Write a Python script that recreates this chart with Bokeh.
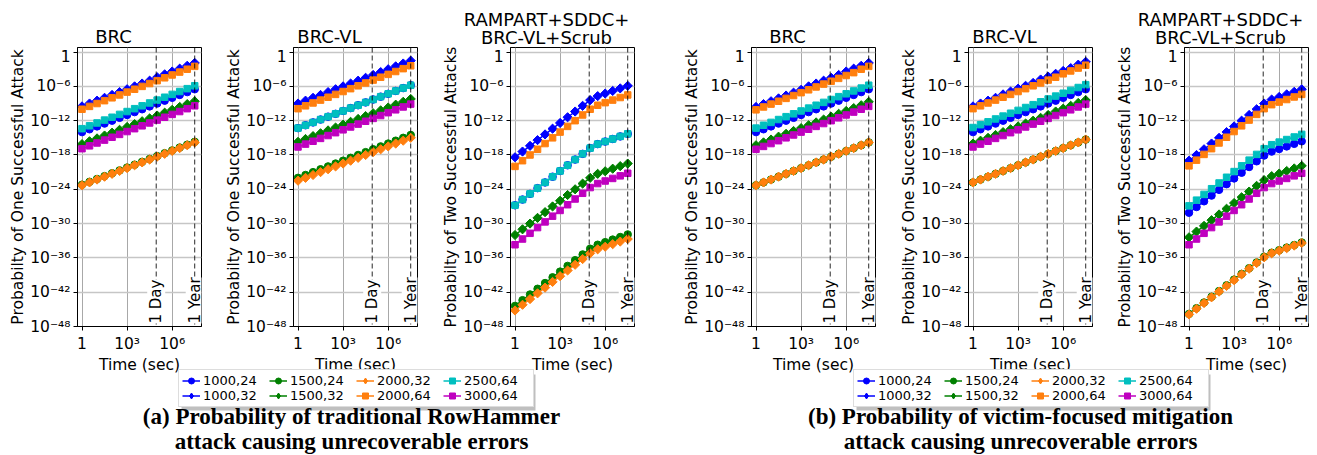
import math
from bokeh.plotting import figure
from bokeh.layouts import row, column
from bokeh.models import (Range1d, FixedTicker, CustomJSTickFormatter, Span, Label,
                          Legend, LegendItem, BoxAnnotation)
from bokeh.embed import file_html
from bokeh.resources import INLINE

# ---------------- data ----------------
time_sec = [1, 3.16, 10, 31.6, 100, 316, 1000, 3160, 1e4, 3.16e4, 1e5, 3.16e5,
            1e6, 3.16e6, 1e7, 3.15e7]
series_labels = ["1000,24", "1000,32", "1500,24", "1500,32",
                 "2000,32", "2000,64", "2500,64", "3000,64"]
x_ticks = [1, 1e3, 1e6]
y_ticks = [1e-48, 1e-42, 1e-36, 1e-30, 1e-24, 1e-18, 1e-12, 1e-6, 1]
day_sec = 86400
year_sec = 31536000

# log10 of probability, one list per configuration
a_brc = {
    "1000,24": [-14.0, -13.5, -13.0, -12.5, -12.0, -11.5, -11.0, -10.5, -10.0, -9.5, -9.0, -8.5, -8.0, -7.5, -7.0, -6.5],
    "1000,32": [-9.5, -9.0, -8.5, -8.0, -7.5, -7.0, -6.5, -6.0, -5.5, -5.0, -4.4, -3.9, -3.4, -2.9, -2.4, -1.9],
    "1500,24": [-23.2, -22.7, -22.2, -21.7, -21.2, -20.7, -20.2, -19.7, -19.2, -18.7, -18.2, -17.7, -17.2, -16.7, -16.2, -15.7],
    "1500,32": [-16.1, -15.6, -15.1, -14.6, -14.1, -13.6, -13.1, -12.6, -12.1, -11.6, -11.1, -10.6, -10.1, -9.6, -9.1, -8.6],
    "2000,32": [-23.3, -22.8, -22.3, -21.8, -21.3, -20.8, -20.3, -19.8, -19.3, -18.8, -18.3, -17.8, -17.3, -16.8, -16.3, -15.8],
    "2000,64": [-10.0, -9.5, -9.0, -8.5, -8.0, -7.5, -7.0, -6.5, -6.0, -5.5, -5.0, -4.5, -4.0, -3.5, -3.0, -2.5],
    "2500,64": [-13.4, -12.9, -12.4, -11.9, -11.4, -10.9, -10.4, -9.9, -9.4, -8.9, -8.4, -7.9, -7.4, -6.9, -6.4, -5.9],
    "3000,64": [-16.9, -16.4, -15.9, -15.4, -14.9, -14.4, -13.9, -13.4, -12.9, -12.4, -11.9, -11.4, -10.9, -10.4, -9.9, -9.4],
}
a_brcvl = {
    "1000,24": [-13.3, -12.8, -12.3, -11.8, -11.3, -10.8, -10.3, -9.8, -9.3, -8.8, -8.3, -7.8, -7.3, -6.8, -6.3, -5.8],
    "1000,32": [-9.0, -8.5, -8.0, -7.5, -7.0, -6.5, -6.0, -5.5, -5.0, -4.5, -4.0, -3.5, -3.0, -2.5, -2.0, -1.5],
    "1500,24": [-22.0, -21.5, -21.0, -20.5, -20.0, -19.5, -19.0, -18.5, -18.0, -17.5, -17.0, -16.5, -16.0, -15.5, -15.0, -14.5],
    "1500,32": [-15.7, -15.2, -14.7, -14.2, -13.7, -13.2, -12.7, -12.2, -11.7, -11.2, -10.7, -10.2, -9.7, -9.2, -8.7, -8.2],
    "2000,32": [-22.5, -22.0, -21.5, -21.0, -20.5, -20.0, -19.5, -19.0, -18.5, -18.0, -17.5, -17.0, -16.5, -16.0, -15.5, -15.0],
    "2000,64": [-9.9, -9.4, -8.9, -8.4, -7.9, -7.4, -6.9, -6.4, -5.9, -5.4, -4.9, -4.4, -3.9, -3.4, -2.9, -2.4],
    "2500,64": [-13.3, -12.8, -12.3, -11.8, -11.3, -10.8, -10.3, -9.8, -9.3, -8.8, -8.3, -7.8, -7.3, -6.8, -6.3, -5.8],
    "3000,64": [-16.6, -16.1, -15.6, -15.1, -14.6, -14.1, -13.6, -13.1, -12.6, -12.1, -11.6, -11.1, -10.6, -10.1, -9.6, -9.1],
}
a_rampart = {
    "1000,24": [-26.8, -25.8, -24.8, -23.8, -22.8, -21.8, -20.8, -19.8, -18.8, -17.8, -16.8, -16.1, -15.65, -15.2, -14.75, -14.3],
    "1000,32": [-18.4, -17.4, -16.4, -15.4, -14.4, -13.4, -12.4, -11.4, -10.4, -9.4, -8.4, -7.7, -7.25, -6.8, -6.35, -5.9],
    "1500,24": [-44.4, -43.4, -42.4, -41.4, -40.4, -39.4, -38.4, -37.4, -36.4, -35.4, -34.4, -33.7, -33.25, -32.8, -32.35, -31.9],
    "1500,32": [-32.0, -31.0, -30.0, -29.0, -28.0, -27.0, -26.0, -25.0, -24.0, -23.0, -22.0, -21.3, -20.85, -20.4, -19.95, -19.5],
    "2000,32": [-45.2, -44.2, -43.2, -42.2, -41.2, -40.2, -39.2, -38.2, -37.2, -36.2, -35.2, -34.5, -34.05, -33.6, -33.15, -32.7],
    "2000,64": [-20.0, -19.0, -18.0, -17.0, -16.0, -15.0, -14.0, -13.0, -12.0, -11.0, -10.0, -9.3, -8.85, -8.4, -7.95, -7.5],
    "2500,64": [-26.8, -25.8, -24.8, -23.8, -22.8, -21.8, -20.8, -19.8, -18.8, -17.8, -16.8, -16.1, -15.65, -15.2, -14.75, -14.3],
    "3000,64": [-33.7, -32.7, -31.7, -30.7, -29.7, -28.7, -27.7, -26.7, -25.7, -24.7, -23.7, -23.0, -22.55, -22.1, -21.65, -21.2],
}
b_brc = {
    "1000,24": [-14.0, -13.5, -13.0, -12.5, -12.0, -11.5, -11.0, -10.5, -10.0, -9.5, -9.0, -8.5, -8.0, -7.5, -7.0, -6.5],
    "1000,32": [-9.6, -9.1, -8.6, -8.1, -7.6, -7.1, -6.6, -6.0, -5.5, -5.0, -4.5, -4.0, -3.4, -2.9, -2.4, -1.9],
    "1500,24": [-23.3, -22.8, -22.3, -21.8, -21.3, -20.8, -20.3, -19.8, -19.3, -18.8, -18.3, -17.8, -17.3, -16.8, -16.3, -15.8],
    "1500,32": [-16.3, -15.8, -15.3, -14.8, -14.3, -13.8, -13.3, -12.8, -12.3, -11.8, -11.3, -10.8, -10.3, -9.8, -9.3, -8.7],
    "2000,32": [-23.3, -22.8, -22.3, -21.8, -21.3, -20.8, -20.3, -19.8, -19.3, -18.8, -18.3, -17.8, -17.3, -16.8, -16.3, -15.8],
    "2000,64": [-10.1, -9.6, -9.1, -8.6, -8.1, -7.6, -7.1, -6.6, -6.1, -5.6, -5.1, -4.6, -4.1, -3.6, -3.0, -2.5],
    "2500,64": [-13.3, -12.8, -12.3, -11.8, -11.3, -10.8, -10.3, -9.8, -9.3, -8.8, -8.3, -7.8, -7.3, -6.8, -6.3, -5.8],
    "3000,64": [-17.0, -16.5, -16.0, -15.5, -15.0, -14.5, -14.0, -13.5, -13.0, -12.5, -12.0, -11.5, -11.0, -10.5, -10.0, -9.5],
}
b_brcvl = {
    "1000,24": [-14.0, -13.5, -13.0, -12.5, -12.0, -11.5, -11.0, -10.5, -10.0, -9.5, -9.0, -8.5, -8.0, -7.5, -7.0, -6.5],
    "1000,32": [-9.5, -9.0, -8.5, -8.0, -7.4, -6.9, -6.4, -5.9, -5.4, -4.8, -4.3, -3.8, -3.3, -2.8, -2.2, -1.7],
    "1500,24": [-22.8, -22.3, -21.8, -21.3, -20.8, -20.3, -19.8, -19.3, -18.8, -18.3, -17.8, -17.3, -16.8, -16.3, -15.8, -15.3],
    "1500,32": [-16.0, -15.5, -15.0, -14.5, -14.0, -13.5, -13.0, -12.5, -12.0, -11.5, -11.0, -10.4, -9.9, -9.4, -8.9, -8.4],
    "2000,32": [-22.8, -22.3, -21.8, -21.3, -20.8, -20.3, -19.8, -19.3, -18.8, -18.3, -17.8, -17.3, -16.8, -16.3, -15.8, -15.3],
    "2000,64": [-9.9, -9.4, -8.9, -8.4, -7.9, -7.4, -6.9, -6.4, -5.9, -5.4, -4.9, -4.4, -3.8, -3.3, -2.8, -2.3],
    "2500,64": [-13.2, -12.7, -12.2, -11.7, -11.2, -10.7, -10.2, -9.7, -9.2, -8.7, -8.2, -7.7, -7.2, -6.7, -6.2, -5.7],
    "3000,64": [-16.6, -16.1, -15.6, -15.1, -14.6, -14.1, -13.6, -13.1, -12.6, -12.1, -11.6, -11.1, -10.6, -10.1, -9.6, -9.1],
}
b_rampart = {
    "1000,24": [-28.1, -27.1, -26.1, -25.1, -24.1, -23.1, -22.1, -21.1, -20.1, -19.1, -18.1, -17.4, -16.95, -16.5, -16.05, -15.6],
    "1000,32": [-19.0, -18.0, -17.0, -16.0, -15.0, -14.0, -13.0, -12.0, -11.0, -10.0, -9.0, -8.3, -7.85, -7.4, -6.95, -6.5],
    "1500,24": [-45.8, -44.8, -43.8, -42.8, -41.8, -40.8, -39.8, -38.8, -37.8, -36.8, -35.8, -35.1, -34.65, -34.2, -33.75, -33.3],
    "1500,32": [-32.4, -31.4, -30.4, -29.4, -28.4, -27.4, -26.4, -25.4, -24.4, -23.4, -22.4, -21.7, -21.25, -20.8, -20.35, -19.9],
    "2000,32": [-45.9, -44.9, -43.9, -42.9, -41.9, -40.9, -39.9, -38.9, -37.9, -36.9, -35.9, -35.2, -34.75, -34.3, -33.85, -33.4],
    "2000,64": [-19.9, -18.9, -17.9, -16.9, -15.9, -14.9, -13.9, -12.9, -11.9, -10.9, -9.9, -9.2, -8.75, -8.3, -7.85, -7.4],
    "2500,64": [-26.9, -25.9, -24.9, -23.9, -22.9, -21.9, -20.9, -19.9, -18.9, -17.9, -16.9, -16.2, -15.75, -15.3, -14.85, -14.4],
    "3000,64": [-33.7, -32.7, -31.7, -30.7, -29.7, -28.7, -27.7, -26.7, -25.7, -24.7, -23.7, -23.0, -22.55, -22.1, -21.65, -21.2],
}
panel_titles = [["BRC"], ["BRC-VL"], ["RAMPART+SDDC+", "BRC-VL+Scrub"],
                ["BRC"], ["BRC-VL"], ["RAMPART+SDDC+", "BRC-VL+Scrub"]]
y_label_one = "Probabilty of One Successful Attack"
y_label_two = "Probabilty of Two Successful Attacks"
x_label = "Time (sec)"
caption_a = ["(a) Probability of traditional RowHammer", "attack causing unrecoverable errors"]
caption_b = ["(b) Probability of victim-focused mitigation", "attack causing unrecoverable errors"]

# ---------------- styles / layout ----------------
series_colors = ["#0000ff", "#0000ff", "#008000", "#008000",
                 "#ff7f0e", "#ff7f0e", "#00bfbf", "#bf00bf"]
series_markers = ["circle", "diamond", "circle", "diamond",
                  "diamond", "square", "square", "square"]
FONT = "DejaVu Sans"
FRAME_W, FRAME_H = 124, 279
TITLE_H = 47
PANEL_TOP, PANEL_BOTTOM = 0, 27
TOTAL_H = 454
BOTTOM_H = TOTAL_H - TITLE_H - (PANEL_TOP + FRAME_H + PANEL_BOTTOM)
panel_left_borders = [77, 88, 89, 113, 89, 88]
panel_right_borders = [4, 4, 4, 4, 4, 5]
TOTAL_W = sum(panel_left_borders) + sum(panel_right_borders) + 6 * FRAME_W

tick_code = """
const e = Math.round(Math.log10(tick));
if (e === 0) { return "1"; }
const sup = {"-": "\\u207b", "0": "\\u2070", "1": "\\u00b9", "2": "\\u00b2", "3": "\\u00b3",
             "4": "\\u2074", "5": "\\u2075", "6": "\\u2076", "7": "\\u2077", "8": "\\u2078", "9": "\\u2079"};
let s = "";
for (const c of String(e)) { s += sup[c]; }
return "10" + s;
"""


def add_series(p, xs, ys, color, marker, legend_shape=False):
    r1 = p.line(xs, ys, line_color=color, line_width=1.5)
    if marker == "diamond":
        if legend_shape:
            r2 = p.scatter(xs, ys, marker="diamond", size=9, fill_color=color, line_color=color)
        else:
            r2 = p.scatter(xs, ys, marker="square", angle=math.pi / 4, size=6.5,
                           fill_color=color, line_color=color)
    elif marker == "circle":
        r2 = p.scatter(xs, ys, marker="circle", size=7.5, fill_color=color, line_color=color)
    else:
        r2 = p.scatter(xs, ys, marker="square", size=6.5, fill_color=color, line_color=color)
    return r1, r2


def make_panel(data, ylabel, bl, br):
    p = figure(frame_width=FRAME_W, frame_height=FRAME_H,
               x_axis_type="log", y_axis_type="log",
               x_range=Range1d(10 ** -0.3, 10 ** 7.95),
               y_range=Range1d(1e-48, 10 ** 0.8),
               min_border_left=bl, min_border_right=br,
               min_border_top=PANEL_TOP, min_border_bottom=PANEL_BOTTOM,
               toolbar_location=None, tools="", output_backend="svg", title=None)
    p.background_fill_color = "white"
    p.border_fill_color = "white"
    p.outline_line_color = "black"
    p.outline_line_width = 1

    p.xaxis.ticker = FixedTicker(ticks=x_ticks)
    p.yaxis.ticker = FixedTicker(ticks=y_ticks)
    fmt = CustomJSTickFormatter(code=tick_code)
    p.xaxis.formatter = fmt
    p.yaxis.formatter = fmt
    for ax in (p.xaxis, p.yaxis):
        ax.major_tick_out = 4
        ax.major_tick_in = 0
        ax.minor_tick_line_color = None
        ax.axis_line_color = "black"
        ax.major_tick_line_color = "black"
        ax.major_label_text_font = FONT
        ax.major_label_text_font_size = "15.5px"
        ax.major_label_text_color = "black"
        ax.major_label_standoff = 3
        ax.axis_label_text_font = FONT
        ax.axis_label_text_font_size = "15.5px"
        ax.axis_label_text_font_style = "normal"
        ax.axis_label_text_color = "black"
        ax.axis_label_standoff = 0
    p.xaxis.major_label_standoff = 4
    p.yaxis.axis_label = ylabel

    p.xgrid.grid_line_color = "#a8a8a8"
    p.xgrid.grid_line_width = 1
    p.ygrid.grid_line_color = "#c6c6c6"
    p.ygrid.grid_line_width = 1.5

    for label, color, marker in zip(series_labels, series_colors, series_markers):
        ys = [10 ** v for v in data[label]]
        add_series(p, time_sec, ys, color, marker)

    for loc in (day_sec, year_sec):
        p.add_layout(Span(location=loc, dimension="height", line_color="black",
                          line_width=1, line_dash="5 3", line_alpha=0.85))
    for loc, txt in ((day_sec, "1 Day"), (year_sec, "1 Year")):
        p.add_layout(Label(x=loc, y=3, y_units="screen", text=txt, angle=math.pi / 2,
                           text_align="left", text_baseline="middle",
                           text_font=FONT, text_font_size="15px", text_color="black",
                           background_fill_color="white"))
    return p


panels_data = [a_brc, a_brcvl, a_rampart, b_brc, b_brcvl, b_rampart]
panels_ylabel = [y_label_one, y_label_one, y_label_two, y_label_one, y_label_one, y_label_two]
panels = [make_panel(d, yl, bl, br) for d, yl, bl, br in
          zip(panels_data, panels_ylabel, panel_left_borders, panel_right_borders)]

# frame centres (page x; the layout starts at the page's left edge)
frame_centres = []
acc = 0
for bl, br in zip(panel_left_borders, panel_right_borders):
    frame_centres.append(acc + bl + FRAME_W / 2)
    acc += bl + FRAME_W + br


def strip(height):
    s = figure(width=TOTAL_W, height=height, x_range=Range1d(0, TOTAL_W), y_range=Range1d(0, height),
               min_border_left=0, min_border_right=0, min_border_top=0, min_border_bottom=0,
               x_axis_location=None, y_axis_location=None,
               toolbar_location=None, tools="", output_backend="svg", title=None)
    s.xgrid.visible = False
    s.ygrid.visible = False
    s.outline_line_color = None
    s.background_fill_color = "white"
    s.border_fill_color = "white"
    return s


# ---- title strip (text centres measured from the strip's bottom) ----
t = strip(TITLE_H)
for cx, lines in zip(frame_centres, panel_titles):
    ys = [11] if len(lines) == 1 else [28.5, 10.5]
    for txt, yy in zip(lines, ys):
        t.add_layout(Label(x=cx - 26, y=yy, text=txt, text_align="center", text_baseline="middle",
                           text_font=FONT, text_font_size="18px", text_color="black"))

# ---- bottom strip: x labels, legends, captions ----
b = strip(BOTTOM_H)
for cx in frame_centres:
    b.add_layout(Label(x=cx, y=BOTTOM_H - 9.5, text=x_label, text_align="center",
                       text_baseline="middle", text_font=FONT, text_font_size="15.5px",
                       text_color="black"))

items = []
for label, color, marker in zip(series_labels, series_colors, series_markers):
    r1, r2 = add_series(b, time_sec[:1], a_brc[label][:1], color, marker, legend_shape=True)
    r1.visible = False
    r2.visible = False
    items.append(LegendItem(label=label, renderers=[r1, r2]))

LEG_W, LEG_H = 354, 36
leg_bottom = TOTAL_H - 405
for centre in (frame_centres[1], frame_centres[4]):
    left = centre - LEG_W / 2
    b.add_layout(BoxAnnotation(left=left + 3, right=left + LEG_W + 3,
                               bottom=leg_bottom - 3, top=leg_bottom + LEG_H - 3,
                               fill_color="#8a8a8a", fill_alpha=0.55, line_color=None))
    b.add_layout(Legend(items=items, location=(left, leg_bottom), orientation="vertical", nrows=2,
                        margin=0, padding=3, spacing=0,
                        glyph_width=18, glyph_height=15, label_height=15, label_width=66,
                        label_standoff=3, label_text_font=FONT, label_text_font_size="13px",
                        label_text_color="black",
                        border_line_color="#bbbbbb", border_line_width=1,
                        background_fill_color="white", background_fill_alpha=1.0))

for cx, lines in ((351, caption_a), (1020, caption_b)):
    for txt, centre_y in zip(lines, (414.2, 439.2)):
        b.add_layout(Label(x=cx, y=TOTAL_H - centre_y, text=txt, text_align="center",
                           text_baseline="middle", text_font="Liberation Serif",
                           text_font_style="bold", text_font_size="23px", text_color="black"))

root = column(t, row(*panels), b)

with open("out.html", "w", encoding="utf-8") as fh:
    fh.write(file_html(root, INLINE))
